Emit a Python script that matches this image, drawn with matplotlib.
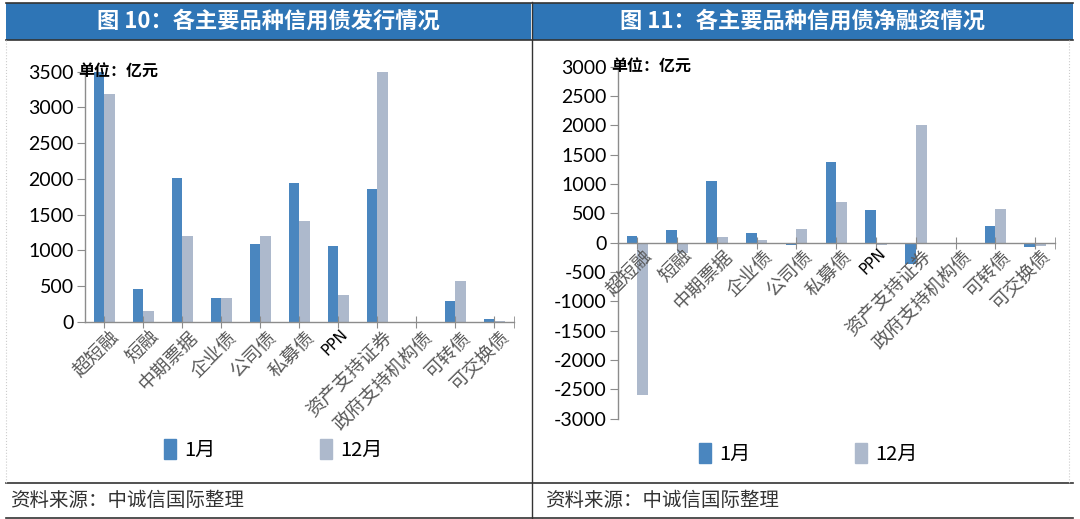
import numpy as np
import matplotlib
matplotlib.use('Agg')
import matplotlib.pyplot as plt
from matplotlib.lines import Line2D
from matplotlib.patches import Rectangle, Patch

plt.rcParams['font.family'] = ['Noto Sans CJK SC', 'DejaVu Sans']
plt.rcParams['axes.unicode_minus'] = False

# data (unit: 亿元)
categories = ['超短融', '短融', '中期票据', '企业债', '公司债', '私募债', 'PPN',
              '资产支持证券', '政府支持机构债', '可转债', '可交换债']
issue_jan = [3500, 464, 2005, 334, 1086, 1936, 1063, 1861, 0, 288, 32]
issue_dec = [3190, 149, 1202, 334, 1193, 1416, 371, 3500, 0, 576, 15]
net_jan = [113, 215, 1060, 159, -40, 1383, 555, -357, 0, 289, -79]
net_dec = [-2600, -181, 96, 45, 227, 686, -40, 2006, 0, 567, -51]
series_names = ['1月', '12月']

titles = ['图 10：各主要品种信用债发行情况', '图 11：各主要品种信用债净融资情况']
source_text = '资料来源：中诚信国际整理'

c_jan = '#4A86BF'
c_dec = '#ADB9CC'
c_band = '#2E75B6'
c_axis = '#8C8C8C'

W, H = 1080, 519
fig = plt.figure(figsize=(W / 100, H / 100), dpi=100)


def fx(px):
    return px / W


def fy(py):
    return 1 - py / H


# frame, title bands, footer
fig.add_artist(Rectangle((fx(6), fy(40)), fx(525), 37 / H, color=c_band, lw=0))
fig.add_artist(Rectangle((fx(533), fy(40)), fx(540), 37 / H, color=c_band, lw=0))
for y in [2.5, 40, 483, 517.5]:
    fig.add_artist(Line2D([fx(6), fx(1073)], [fy(y), fy(y)], color='#333333', lw=1.2))
fig.add_artist(Line2D([fx(532), fx(532)], [fy(2), fy(519)], color='#333333', lw=1.0))
for x in [6, 1069]:
    fig.add_artist(Line2D([fx(x), fx(x)], [fy(40), fy(483)], color='#CCCCCC', lw=0.8, ls=':'))

fig.text(fx(268), fy(21), titles[0], color='white', fontsize=16, fontweight='bold',
         ha='center', va='center')
fig.text(fx(802), fy(21), titles[1], color='white', fontsize=16, fontweight='bold',
         ha='center', va='center')
fig.text(fx(10), fy(500), source_text, color='#333333', fontsize=14, ha='left', va='center')
fig.text(fx(545), fy(500), source_text, color='#333333', fontsize=14, ha='left', va='center')


def draw_panel(ax, jan, dec, ylim, yticks, label_pad):
    x = np.arange(len(categories))
    w = 0.27
    ax.bar(x - w / 2, jan, w, color=c_jan, label=series_names[0])
    ax.bar(x + w / 2, dec, w, color=c_dec, label=series_names[1])
    ax.set_xlim(-0.5, len(categories) - 0.5)
    ax.set_ylim(*ylim)
    ax.set_yticks(yticks)
    ax.set_yticklabels([str(v) for v in yticks], family='Lato', fontsize=14)
    ax.set_xticks(x)
    ax.set_xticks([len(categories) - 0.5], minor=True)
    ax.set_xticklabels([])
    for s in ['top', 'right']:
        ax.spines[s].set_visible(False)
    for s in ['left', 'bottom']:
        ax.spines[s].set_color(c_axis)
        ax.spines[s].set_linewidth(1.0)
    ax.spines['bottom'].set_position(('data', 0))
    ax.tick_params(axis='y', direction='out', length=6, color=c_axis, pad=2)
    ax.tick_params(axis='x', which='both', direction='inout', length=9, color=c_axis)
    ax.patch.set_alpha(0)
    # rotated category labels hanging from the zero line
    for i, name in enumerate(categories):
        if name == 'PPN':
            ax.annotate(name, (i, 0), xytext=(2, -label_pad), textcoords='offset pixels',
                        rotation=45, rotation_mode='anchor', ha='right', va='top',
                        fontsize=11, family='DejaVu Sans', color='black')
        else:
            ax.annotate(name, (i, 0), xytext=(5, -label_pad), textcoords='offset pixels',
                        rotation=45, rotation_mode='anchor', ha='right', va='top',
                        fontsize=13.5, color='#595959')
    ax.annotate('单位：亿元', (0, 1), xycoords='axes fraction', xytext=(-6, 0),
                textcoords='offset pixels', fontsize=11.5, fontweight='bold',
                ha='left', va='center', color='black')


# left: issuance
ax1 = fig.add_axes([fx(84.7), fy(321.7), fx(514 - 84.7), 250 / H])
draw_panel(ax1, issue_jan, issue_dec, (0, 3500), list(range(0, 3501, 500)), 5)

# right: net financing
ax2 = fig.add_axes([fx(617.5), fy(418.7), fx(1055 - 617.5), 352 / H])
draw_panel(ax2, net_jan, net_dec, (-3000, 3000), list(range(-3000, 3001, 500)), 3)

for ax, cx, cy in [(ax1, 273, 450), (ax2, 808, 454)]:
    handles = [Patch(color=c_jan), Patch(color=c_dec)]
    fig.legend(handles, series_names, loc='center', bbox_to_anchor=(fx(cx), fy(cy)),
               ncol=2, frameon=False, fontsize=14.5, handlelength=0.6, handleheight=1.1,
               handletextpad=0.4, columnspacing=5.2)

fig.savefig('out.png', dpi=100)
